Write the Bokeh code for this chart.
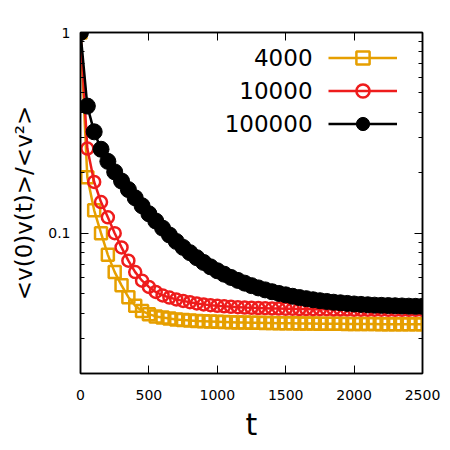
from bokeh.plotting import figure
from bokeh.models import (Range1d, FixedTicker, LinearAxis, LogAxis, Legend, LegendItem,
                          CustomJSTickFormatter, Label)
from bokeh.core.properties import value
from bokeh.embed import file_html
from bokeh.resources import INLINE

# ---- data ----
t = [0, 50, 100, 150, 200, 250, 300, 350, 400, 450, 500, 550, 600, 650, 700, 750, 800, 850,
     900, 950, 1000, 1050, 1100, 1150, 1200, 1250, 1300, 1350, 1400, 1450, 1500, 1550, 1600,
     1650, 1700, 1750, 1800, 1850, 1900, 1950, 2000, 2050, 2100, 2150, 2200, 2250, 2300, 2350,
     2400, 2450, 2500]

c_4000 = [1.0, 0.19, 0.13, 0.10, 0.078, 0.064, 0.055, 0.048, 0.0435, 0.041, 0.0395, 0.0385,
          0.038, 0.0376, 0.0372, 0.0369, 0.0367, 0.0365, 0.0364, 0.0363, 0.0362, 0.0361, 0.036,
          0.0359, 0.0359, 0.0358, 0.0358, 0.0357, 0.0357, 0.0356, 0.0356, 0.0356, 0.0355, 0.0355,
          0.0355, 0.0354, 0.0354, 0.0354, 0.0354, 0.0353, 0.0353, 0.0353, 0.0353, 0.0353, 0.0352,
          0.0352, 0.0352, 0.0352, 0.0352, 0.0352, 0.0352]

c_10000 = [1.0, 0.264, 0.18, 0.143, 0.12, 0.10, 0.085, 0.073, 0.064, 0.058, 0.054, 0.051, 0.049,
           0.0478, 0.0468, 0.046, 0.0453, 0.0447, 0.0442, 0.0438, 0.0435, 0.0432, 0.043, 0.0428,
           0.0426, 0.0425, 0.0424, 0.0423, 0.0422, 0.0421, 0.042, 0.042, 0.0419, 0.0419, 0.0418,
           0.0418, 0.0418, 0.0417, 0.0417, 0.0417, 0.0416, 0.0416, 0.0416, 0.0416, 0.0416, 0.0415,
           0.0415, 0.0415, 0.0415, 0.0415, 0.0415]

c_100000 = [1.0, 0.43, 0.32, 0.262, 0.228, 0.202, 0.182, 0.165, 0.15, 0.137, 0.125, 0.115, 0.106,
            0.098, 0.091, 0.085, 0.08, 0.0755, 0.0715, 0.068, 0.065, 0.0625, 0.0602, 0.0582,
            0.0564, 0.0548, 0.0534, 0.0522, 0.0511, 0.0501, 0.0493, 0.0485, 0.0478, 0.0472,
            0.0466, 0.0461, 0.0457, 0.0453, 0.045, 0.0447, 0.0444, 0.0442, 0.044, 0.0438, 0.0437,
            0.0436, 0.0435, 0.0434, 0.0433, 0.0432, 0.0432]

series_labels = ["4000", "10000", "100000"]
x_ticks = [0, 500, 1000, 1500, 2000, 2500]
y_ticks = [0.1, 1]
y_tick_labels = ["0.1", "1"]
y_minor = [0.02, 0.03, 0.04, 0.05, 0.06, 0.07, 0.08, 0.09, 0.2, 0.3, 0.4, 0.5, 0.6, 0.7, 0.8, 0.9]

FONT = "DejaVu Sans"
ORANGE = "#e69f00"
RED = "#ee1c1c"
BLACK = "#000000"

p = figure(width=450, height=450, y_axis_type="log",
           x_range=Range1d(0, 2500), y_range=Range1d(0.02, 1),
           output_backend="svg", toolbar_location=None,
           min_border_left=80, min_border_right=28, min_border_top=32, min_border_bottom=77)
p.xgrid.visible = False
p.ygrid.visible = False
p.outline_line_color = "black"
p.outline_line_width = 1.5
p.background_fill_color = "white"
p.border_fill_color = "white"

# series
l1 = p.line(t, c_4000, line_color=ORANGE, line_width=2.5)
s1 = p.scatter(t, c_4000, marker="square", size=12, fill_color=None,
               line_color=ORANGE, line_width=2.5)
l2 = p.line(t, c_10000, line_color=RED, line_width=2.5)
s2 = p.scatter(t, c_10000, marker="circle", size=12, fill_color=None,
               line_color=RED, line_width=2.5)
l3 = p.line(t, c_100000, line_color=BLACK, line_width=2.5)
s3 = p.scatter(t, c_100000, marker="circle", size=16, fill_color=BLACK,
               line_color=BLACK, line_width=1)

# axes
def style_axis(ax):
    ax.axis_line_color = "black"
    ax.axis_line_width = 1.5
    ax.major_tick_in = 8
    ax.major_tick_out = 0
    ax.minor_tick_in = 4
    ax.minor_tick_out = 0
    ax.major_tick_line_color = "black"
    ax.minor_tick_line_color = "black"
    ax.major_label_text_font = FONT
    ax.major_label_text_font_size = "14px"
    ax.major_label_text_color = "black"
    ax.axis_label_text_font = FONT
    ax.axis_label_text_font_style = "normal"
    ax.axis_label_text_color = "black"

xa = p.xaxis[0]
style_axis(xa)
xa.ticker = FixedTicker(ticks=x_ticks, minor_ticks=[])
xa.axis_label = "t"
xa.axis_label_text_font_size = "30px"
xa.major_label_standoff = 16
xa.axis_label_standoff = 4

ya = p.yaxis[0]
style_axis(ya)
ya.ticker = FixedTicker(ticks=y_ticks, minor_ticks=y_minor)
ya.major_label_overrides = {v: s for v, s in zip(y_ticks, y_tick_labels)}
ya.axis_label = "<v(0)v(t)>/<v²>"
ya.axis_label_text_font_size = "23px"
ya.major_label_standoff = 10
ya.axis_label_standoff = 8

blank = CustomJSTickFormatter(code="return ''")
top = LinearAxis(ticker=FixedTicker(ticks=x_ticks, minor_ticks=[]), formatter=blank)
style_axis(top)
p.add_layout(top, "above")
right = LogAxis(ticker=FixedTicker(ticks=y_ticks, minor_ticks=y_minor), formatter=blank)
style_axis(right)
p.add_layout(right, "right")

# legend: samples drawn by Bokeh's legend, texts placed to their left
legend = Legend(items=[LegendItem(label=value(" "), renderers=[l1, s1]),
                       LegendItem(label=value(" "), renderers=[l2, s2]),
                       LegendItem(label=value(" "), renderers=[l3, s3])],
                location=(248, 233), glyph_width=69, glyph_height=33, label_height=33,
                spacing=0, padding=0, margin=0, border_line_color=None,
                background_fill_alpha=0, label_text_font=FONT, label_text_font_size="10px",
                label_width=0)
p.add_layout(legend)

label_x = 1696          # right edge of the legend texts, in t units
label_y = [0.751, 0.514, 0.352]
for txt, yy in zip(series_labels, label_y):
    p.add_layout(Label(x=label_x, y=yy, text=txt, text_align="right", text_baseline="middle",
                       text_font=FONT, text_font_size="23px", text_color="black"))

open("out.html", "w").write(file_html(p, INLINE))
